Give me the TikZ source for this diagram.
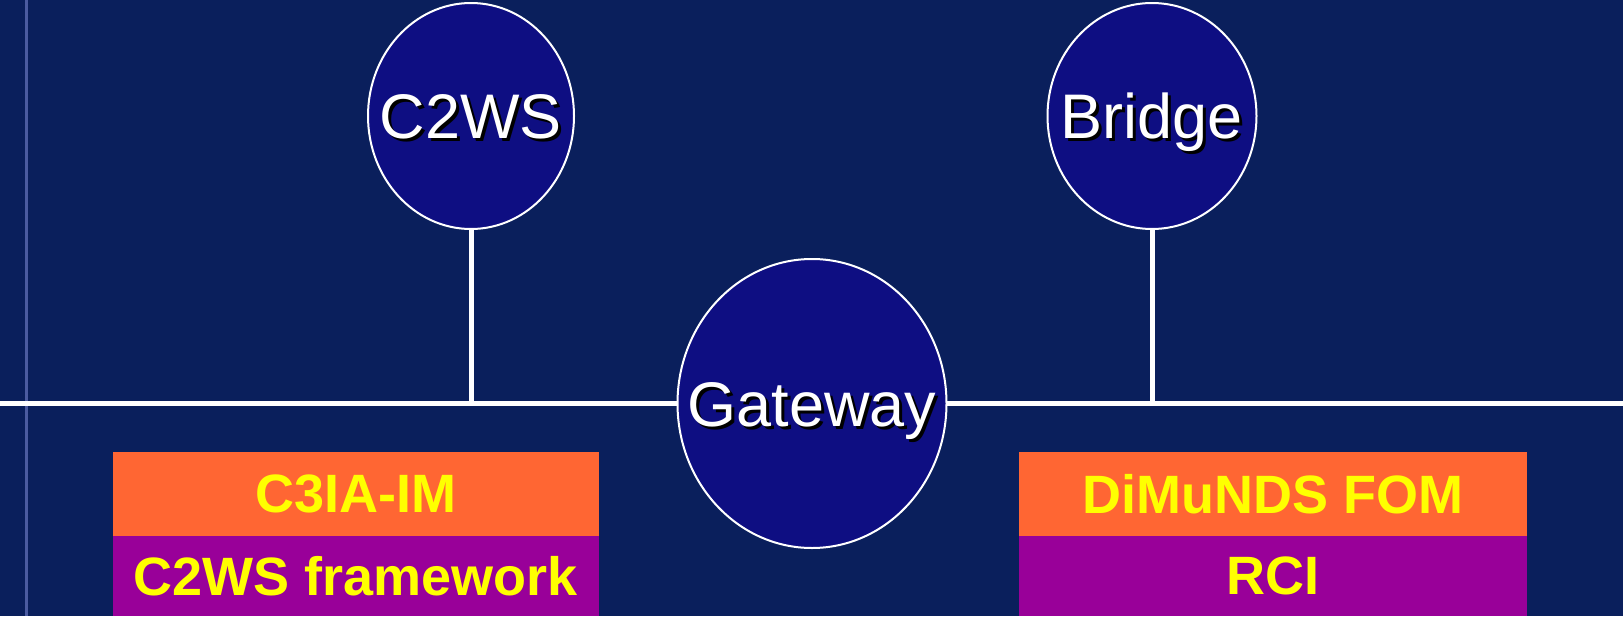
\documentclass[tikz,border=0pt]{standalone}
\usepackage{fontspec}
\setmainfont{Liberation Sans}
\usetikzlibrary{shapes.geometric}
\definecolor{bgnavy}{RGB}{10,31,92}
\definecolor{circfill}{RGB}{14,14,130}
\definecolor{stripe}{RGB}{75,91,160}
\definecolor{boxorange}{RGB}{255,102,51}
\definecolor{boxpurple}{RGB}{153,0,153}
\definecolor{boxyellow}{RGB}{255,255,0}
\newcommand\shtext[1]{\smash{\makebox[0pt]{\raisebox{-0.358em}{\rlap{\kern3pt\raisebox{-3pt}{\color{black}#1}}{\color{white}#1}}}}}
\tikzset{
  bubble/.style={ellipse, draw=white, line width=2pt, fill=circfill, inner sep=0pt,
    font=\fontsize{63}{70}\selectfont},
  wire/.style={draw=white, line width=5pt},
  layer/.style={rectangle, inner sep=0pt, text=boxyellow,
    font=\fontsize{54}{60}\selectfont\bfseries},
  toplayer/.style={layer, fill=boxorange, minimum height=84pt},
  botlayer/.style={layer, fill=boxpurple, minimum height=80pt},
}
\begin{document}
\begin{tikzpicture}[x=1pt,y=-1pt]
\fill[bgnavy] (0,0) rectangle (1623,616);
\useasboundingbox (0,0) rectangle (1623,616);
\draw[stripe, line width=3pt] (26,0) -- (26,616);
% main bus
\coordinate (L) at (0,403);
\coordinate (R) at (1623,403);
\coordinate (J1) at (471,403);
\coordinate (J2) at (1152,403);
\path[wire] (L) -- (R);
% nodes
\node[bubble, minimum width=206pt, minimum height=226pt] (c2ws) at (471,116) {\shtext{C2WS}};
\node[bubble, minimum width=209pt, minimum height=226pt] (bridge) at (1152,116) {\shtext{Bridge}};
\node[bubble, minimum width=269pt, minimum height=289pt] (gw) at (812,403.5) {\shtext{Gateway}};
\path[wire] (c2ws.south) -- (J1);
\path[wire] (bridge.south) -- (J2);
% layer boxes
\node[toplayer, minimum width=486pt] (c3ia) at (356,494) {C3IA-IM};
\node[botlayer, minimum width=486pt] (c2fw) at (356,576) {C2WS framework};
\node[toplayer, minimum width=508pt] (dimunds) at (1273,494) {DiMuNDS FOM};
\node[botlayer, minimum width=508pt] (rci) at (1273,576) {RCI};
\end{tikzpicture}
\end{document}
